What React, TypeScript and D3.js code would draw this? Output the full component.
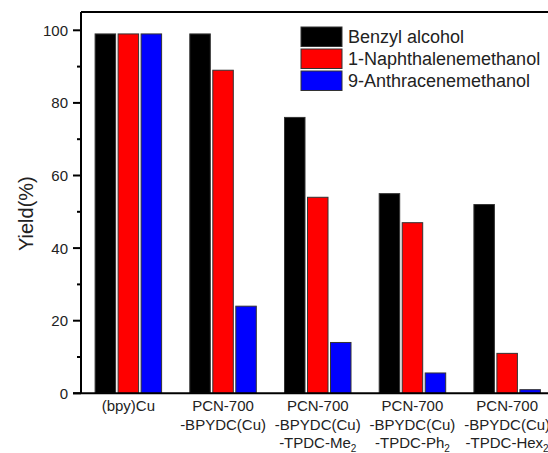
import React from "react";
import * as d3 from "d3";

const catalysts = ["(bpy)Cu", "PCN-700-BPYDC(Cu)", "PCN-700-BPYDC(Cu)-TPDC-Me2", "PCN-700-BPYDC(Cu)-TPDC-Ph2", "PCN-700-BPYDC(Cu)-TPDC-Hex2"];
const seriesNames = ["Benzyl alcohol", "1-Naphthalenemethanol", "9-Anthracenemethanol"];
const seriesColors = ["#000000", "#ff0000", "#0000ff"];
const benzylAlcohol = [99, 99, 76, 55, 52];
const naphthalenemethanol = [99, 89, 54, 47, 11];
const anthracenemethanol = [99, 24, 14, 5.6, 1];
const yTicks = [0, 20, 40, 60, 80, 100];
const yMinorTicks = [10, 30, 50, 70, 90];
// label lines per catalyst: [text, subscript]
const catalystLabels: [string, string][][] = [
  [["(bpy)Cu", ""]],
  [["PCN-700", ""], ["-BPYDC(Cu)", ""]],
  [["PCN-700", ""], ["-BPYDC(Cu)", ""], ["-TPDC-Me", "2"]],
  [["PCN-700", ""], ["-BPYDC(Cu)", ""], ["-TPDC-Ph", "2"]],
  [["PCN-700", ""], ["-BPYDC(Cu)", ""], ["-TPDC-Hex", "2"]],
];

const W = 548;
const H = 453;
const left = 81;
const top = 12;
const bottom = 393.3;
const font = "Liberation Sans, Arial, sans-serif";

export default function App() {
  const series = [benzylAlcohol, naphthalenemethanol, anthracenemethanol];
  const x = d3.scaleBand<string>().domain(catalysts).range([left, left + 5 * 94.7]);
  const inner = d3.scalePoint<string>().domain(seriesNames).range([-23, 23]);
  const y = d3.scaleLinear().domain([0, 100]).range([bottom, bottom - 363]);
  const barW = 20.5;

  return (
    <svg width={W} height={H} style={{ position: "absolute", left: 0, top: 0, background: "#fff" }} fontFamily={font}>
      {/* bars */}
      {catalysts.map((c, i) => {
        const cx = (x(c) ?? 0) + x.bandwidth() / 2;
        return seriesNames.map((s, j) => {
          const v = series[j][i];
          return (
            <rect
              key={c + s}
              x={cx + (inner(s) ?? 0) - barW / 2}
              y={y(v)}
              width={barW}
              height={y(0) - y(v)}
              fill={seriesColors[j]}
              stroke="#333"
              strokeWidth={1}
            />
          );
        });
      })}
      {/* frame */}
      <line x1={left} x2={W} y1={top} y2={top} stroke="#000" strokeWidth={2} />
      <line x1={left} x2={left} y1={top} y2={bottom} stroke="#000" strokeWidth={2} />
      <line x1={left - 8} x2={W} y1={bottom} y2={bottom} stroke="#000" strokeWidth={2} />
      {/* y ticks */}
      {yTicks.map((t) => (
        <g key={t}>
          <line x1={left - 8} x2={left} y1={y(t)} y2={y(t)} stroke="#000" strokeWidth={2} />
          <text x={left - 13} y={y(t) + 5.5} textAnchor="end" fontSize={15} fill="#222">
            {t}
          </text>
        </g>
      ))}
      {yMinorTicks.map((t) => (
        <line key={t} x1={left - 4} x2={left} y1={y(t)} y2={y(t)} stroke="#000" strokeWidth={2} />
      ))}
      {/* y title */}
      <text
        transform={`translate(33, ${(top + bottom) / 2 + 11}) rotate(-90)`}
        textAnchor="middle"
        fontSize={20}
        fill="#222"
      >
        Yield(%)
      </text>
      {/* category labels */}
      {catalysts.map((c, i) => {
        const cx = (x(c) ?? 0) + x.bandwidth() / 2;
        return (
          <g key={c}>
            {catalystLabels[i].map(([txt, sub], k) => (
              <text key={k} x={cx} y={bottom + 18 + k * 18.5} textAnchor="middle" fontSize={15} fill="#222">
                {txt}
                {sub && (
                  <tspan fontSize={10} dy={4}>
                    {sub}
                  </tspan>
                )}
              </text>
            ))}
          </g>
        );
      })}
      {/* legend */}
      {seriesNames.map((s, j) => (
        <g key={s} transform={`translate(301, ${27 + j * 22})`}>
          <rect x={0} y={0} width={41} height={19.5} fill={seriesColors[j]} stroke="#333" strokeWidth={1} />
          <text x={47} y={16} fontSize={18} fill="#222">
            {s}
          </text>
        </g>
      ))}
    </svg>
  );
}
